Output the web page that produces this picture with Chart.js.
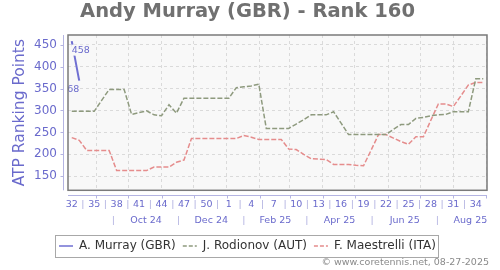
<!DOCTYPE html>
<html><head><meta charset="utf-8">
<script src="https://cdn.jsdelivr.net/npm/chart.js@4/dist/chart.umd.min.js"></script>
<style>html,body{margin:0;padding:0;background:#fff}#wrap{width:500px;height:270px;position:relative}</style>
</head><body><div id="wrap"><canvas id="c" width="500" height="270"></canvas></div>
<script>
// ---- data ----
const weeks = [32,33,34,35,36,37,38,39,40,41,42,43,44,45,46,47,48,49,50,51,52,
  1,2,3,4,5,6,7,8,9,10,11,12,13,14,15,16,17,18,19,20,21,22,23,24,25,26,27,28,29,30,31,32,33,34,35];
const murray = [458,368];
const rodionov = [298,298,298,298,323,348,348,348,291,295,299,290,288,313,294,
  328,328,328,328,328,328,328,352,354,356,360,259,259,259,259,269,279,290,290,290,297,271,
  245,245,245,245,245,245,257,268,268,282,284,288,290,291,297,297,297,372,372];
const maestrelli = [238,232,209,209,209,209,163,163,163,163,163,171,171,171,182,187,
  236,236,236,236,236,236,236,243,239,234,234,234,234,212,211,200,190,189,188,177,177,177,175,174,
  209,245,245,237,229,223,240,240,278,315,315,309,333,358,364,364];
const weekTickLabels = ['32','35','38','41','44','47','50','1','4','7','10','13','16','19','22','25','28','31','34'];
const monthTickLabels = ['Oct 24','Dec 24','Feb 25','Apr 25','Jun 25','Aug 25'];
const yTickValues = [150,200,250,300,350,400,450];
const seriesNames = ['A. Murray (GBR)','J. Rodionov (AUT)','F. Maestrelli (ITA)'];

// ---- date helpers (week index positions) ----
const ORIGIN = Date.UTC(2024,7,9);
function idxOfDate(y,m,d){ return (Date.UTC(y,m-1,d)-ORIGIN)/(7*86400000); }
const gridTicks = [];
for (let k=0;k<13;k++){ const m0=8+k; gridTicks.push(idxOfDate(2024+Math.floor(m0/12), m0%12+1, 1)); }
const seps = [];
for (let k=0;k<7;k++){ const m0=8+2*k; seps.push(idxOfDate(2024+Math.floor(m0/12), m0%12+1, 17)); }

const key = v => Number(v).toFixed(3);
const wMap = new Map(), mMap = new Map();
const wTicks = [], mTicks = [];
weekTickLabels.forEach((l,k)=>{ wTicks.push(3*k); wMap.set(key(3*k), l); if(k<weekTickLabels.length-1){ wTicks.push(3*k+1.5); wMap.set(key(3*k+1.5),'|'); }});
monthTickLabels.forEach((l,k)=>{ mTicks.push(seps[k]); mMap.set(key(seps[k]),'|'); const c=(seps[k]+seps[k+1])/2; mTicks.push(c); mMap.set(key(c), l); });

const FONT = 'DejaVu Sans';
const AX = '#6a6acc', AXL = '#b4b4e2', SEP = '#b0b0e0';
const XMIN = -0.5, XMAX = weeks.length - 0.5;
const toPts = arr => arr.map((v,i)=>({x:i,y:v}));

const deco = {
  id:'deco',
  beforeDraw(chart){
    const {ctx, chartArea:a} = chart;
    ctx.save(); ctx.fillStyle='#f8f8f8'; ctx.fillRect(a.left,a.top,a.right-a.left,a.bottom-a.top); ctx.restore();
  },
  afterDatasetsDraw(chart){
    const {ctx, chartArea:a, scales} = chart;
    const ds = chart.data.datasets[0].data;
    ctx.save();
    ctx.beginPath(); ctx.rect(a.left,a.top,a.right-a.left,a.bottom-a.top); ctx.clip();
    ctx.font = '9.5px "'+FONT+'"'; ctx.textBaseline='middle';
    [[0,'left'],[ds.length-1,'right']].forEach(([i,al])=>{
      const px = scales.x.getPixelForValue(ds[i].x), py = scales.y.getPixelForValue(ds[i].y);
      const t = String(ds[i].y), w = ctx.measureText(t).width;
      const x0 = al==='left'? px : px - w;
      ctx.fillStyle='#f8f8f8'; ctx.fillRect(x0-0.5, py+9-5.5, w+1, 11);
      ctx.fillStyle=AX; ctx.textAlign=al; ctx.fillText(t, px, py+9);
    });
    ctx.restore();
    ctx.save(); ctx.strokeStyle='#7a7a7a'; ctx.lineWidth=1.5;
    ctx.strokeRect(a.left,a.top,a.right-a.left,a.bottom-a.top);
    ctx.strokeStyle=AXL; ctx.lineWidth=1;
    const yl = Math.round(a.left-5)+0.5, xl = Math.round(a.bottom+5)+0.5;
    ctx.beginPath(); ctx.moveTo(yl,a.top); ctx.lineTo(yl,a.bottom);
    yTickValues.forEach(v=>{ const p=Math.round(scales.y.getPixelForValue(v))+0.5; ctx.moveTo(yl-3,p); ctx.lineTo(yl,p); });
    ctx.moveTo(a.left,xl); ctx.lineTo(a.right,xl);
    gridTicks.forEach(v=>{ if(v<=XMAX){ const p=Math.round(scales.x.getPixelForValue(v))+0.5; ctx.moveTo(p,xl); ctx.lineTo(p,xl+3);} });
    ctx.stroke(); ctx.restore();
  },
  afterDraw(chart){
    const {ctx} = chart;
    const hb = chart.legend.legendHitBoxes;
    if (hb && hb.length){
      const f=hb[0], l=hb[hb.length-1];
      const cy = f.top + f.height/2;
      ctx.save(); ctx.strokeStyle='#a8a8a8'; ctx.lineWidth=1;
      ctx.strokeRect(Math.round(f.left-4)+0.5, Math.round(cy-11)+0.5, Math.round(l.left+l.width-f.left+6), 22);
      ctx.restore();
    }
    ctx.save(); ctx.font='9.5px "'+FONT+'"'; ctx.fillStyle='#8a8a8a'; ctx.textAlign='right'; ctx.textBaseline='middle';
    ctx.fillText('\u00A9 www.coretennis.net, 08-27-2025', 489, 263);
    ctx.restore();
  }
};

new Chart(document.getElementById('c'), {
  type:'line',
  data:{ datasets:[
    {label:seriesNames[0], data:toPts(murray), borderColor:'#6f6fd2', backgroundColor:'#6f6fd2', borderWidth:2, pointRadius:0, fill:false},
    {label:seriesNames[1], data:toPts(rodionov), borderColor:'#8e9a7e', backgroundColor:'#8e9a7e', borderWidth:1.5, borderDash:[5,2], pointRadius:0, fill:false},
    {label:seriesNames[2], data:toPts(maestrelli), borderColor:'#e58c8c', backgroundColor:'#e58c8c', borderWidth:1.5, borderDash:[5,2], pointRadius:0, fill:false}
  ]},
  options:{
    responsive:false, animation:false, devicePixelRatio:1,
    layout:{padding:{left:8,right:13,top:0,bottom:8}},
    plugins:{
      tooltip:{enabled:false},
      title:{display:true, text:'Andy Murray (GBR) - Rank 160', color:'#707070',
        font:{family:FONT,size:19.5,weight:'bold'}, padding:{top:0,bottom:11.6}},
      legend:{position:'bottom', labels:{font:{family:FONT,size:12}, color:'#333',
        usePointStyle:true, pointStyle:'line', pointStyleWidth:14, padding:7,
        generateLabels(chart){
          const items = Chart.defaults.plugins.legend.labels.generateLabels(chart);
          items.forEach(it=>{ const d = chart.data.datasets[it.datasetIndex];
            it.lineDash = d.borderDash ? [4,2] : []; it.lineWidth = 1.5; it.strokeStyle = d.borderColor; });
          return items;
        }}}
    },
    scales:{
      x:{type:'linear', min:XMIN, max:XMAX, weight:0,
        afterBuildTicks(s){ s.ticks = gridTicks.filter(v=>v<=XMAX).map(v=>({value:v})); },
        afterFit(s){ s.height = 8; },
        ticks:{display:false},
        grid:{color:'#dadada', drawTicks:false, lineWidth:1},
        border:{display:false, dash:[3,3]}},
      xw:{type:'linear', position:'bottom', min:XMIN, max:XMAX, weight:1,
        afterBuildTicks(s){ s.ticks = wTicks.map(v=>({value:v})); },
        afterFit(s){ s.height = 15; },
        ticks:{autoSkip:false, maxRotation:0, padding:1, font:{family:FONT,size:9.5},
          color:c=> (c.tick && c.tick.label==='|') ? SEP : AX,
          callback:v=> wMap.get(key(v)) || ''},
        grid:{display:false, drawTicks:false}, border:{display:false}},
      xm:{type:'linear', position:'bottom', min:XMIN, max:XMAX, weight:2,
        afterBuildTicks(s){ s.ticks = mTicks.map(v=>({value:v})); },
        afterFit(s){ s.height = 19.7; },
        ticks:{autoSkip:false, maxRotation:0, padding:2, font:{family:FONT,size:9.5},
          color:c=> (c.tick && c.tick.label==='|') ? SEP : AX,
          callback:v=> mMap.get(key(v)) || ''},
        grid:{display:false, drawTicks:false}, border:{display:false}},
      y:{type:'linear', min:118, max:472,
        afterBuildTicks(s){ s.ticks = yTickValues.map(v=>({value:v})); },
        afterFit(s){ s.width = 60; },
        ticks:{padding:11, color:AX, font:{family:FONT,size:12}},
        grid:{color:'#dadada', drawTicks:false},
        border:{display:false, dash:[3,3]},
        title:{display:true, text:'ATP Ranking Points', color:AX, font:{family:FONT,size:15.5}, padding:{top:3,bottom:0}}}
    }
  },
  plugins:[deco]
});
</script></body></html>
